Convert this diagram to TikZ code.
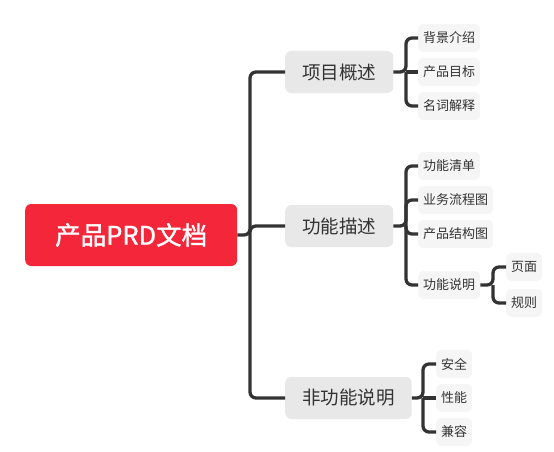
\documentclass[tikz,border=0pt]{standalone}
\usepackage{fontspec}
\newfontfamily\cjk{Noto Sans CJK SC}
\newfontfamily\cjkmid[FakeBold=1.2]{Noto Sans CJK SC}
\usetikzlibrary{positioning}
\definecolor{prdred}{HTML}{F4263A}
\definecolor{topicgray}{HTML}{E8E8E8}
\definecolor{leafgray}{HTML}{F5F5F5}
\definecolor{linegray}{HTML}{333333}
\tikzset{%
  every node/.style={font=\cjk},
  root/.style={fill=prdred,text=white,rounded corners=6pt,anchor=west,
    minimum width=212pt,minimum height=62pt,font=\cjkmid\fontsize{25.5}{25.5}\selectfont},
  topic/.style={fill=topicgray,text=black!80,rounded corners=6pt,anchor=west,
    minimum height=42pt,inner xsep=17pt,font=\cjk\fontsize{18.5}{18.5}\selectfont},
  leaf/.style={fill=leafgray,text=black!80,rounded corners=5pt,anchor=west,
    minimum height=28pt,inner xsep=5pt,font=\cjk\fontsize{13}{13}\selectfont},
  branch/.style={draw=linegray,line width=3.3pt,rounded corners=6pt}
}
\begin{document}
\begin{tikzpicture}[x=1pt,y=-1pt]
\useasboundingbox (0,0) rectangle (554,452);

%% root and main topics
\node[root] (prd) at (25,235) {产品PRD文档};
\node[topic] (overview) at (285,72) {项目概述};
\node[topic] (func) at (285,226) {功能描述};
\node[topic] (nonfunc) at (285,398) {非功能说明};

%% leaves
\node[leaf] (bg) at (418,38) {背景介绍};
\node[leaf] (goal) at (418,72) {产品目标};
\node[leaf] (terms) at (418,106) {名词解释};

\node[leaf] (list) at (418,166) {功能清单};
\node[leaf] (flow) at (418,200) {业务流程图};
\node[leaf] (struct) at (418,234) {产品结构图};
\node[leaf] (spec) at (418,285) {功能说明};
\node[leaf] (page) at (506,267) {页面};
\node[leaf] (rule) at (506,303) {规则};

\node[leaf] (safe) at (436,364) {安全};
\node[leaf] (perf) at (436,398) {性能};
\node[leaf] (compat) at (436,432) {兼容};

%% branch points
\coordinate (hub) at (250,235);
\coordinate (hubA) at (406,72);
\coordinate (hubB) at (406,226);
\coordinate (hubC) at (493,285);
\coordinate (hubD) at (423,398);

\draw[branch] (prd.east) -- (hub) |- (overview.west);
\draw[branch] (hub) |- (func.west);
\draw[branch] (hub) |- (nonfunc.west);

\draw[branch] (overview.east) -- (hubA) |- (bg.west);
\draw[branch] (hubA) -- (goal.west);
\draw[branch] (hubA) |- (terms.west);

\draw[branch] (func.east) -- (hubB) |- (list.west);
\draw[branch] (hubB) |- (flow.west);
\draw[branch] (hubB) |- (struct.west);
\draw[branch] (hubB) |- (spec.west);

\draw[branch] (spec.east) -- (hubC) |- (page.west);
\draw[branch] (hubC) |- (rule.west);

\draw[branch] (nonfunc.east) -- (hubD) |- (safe.west);
\draw[branch] (hubD) -- (perf.west);
\draw[branch] (hubD) |- (compat.west);

\end{tikzpicture}
\end{document}
